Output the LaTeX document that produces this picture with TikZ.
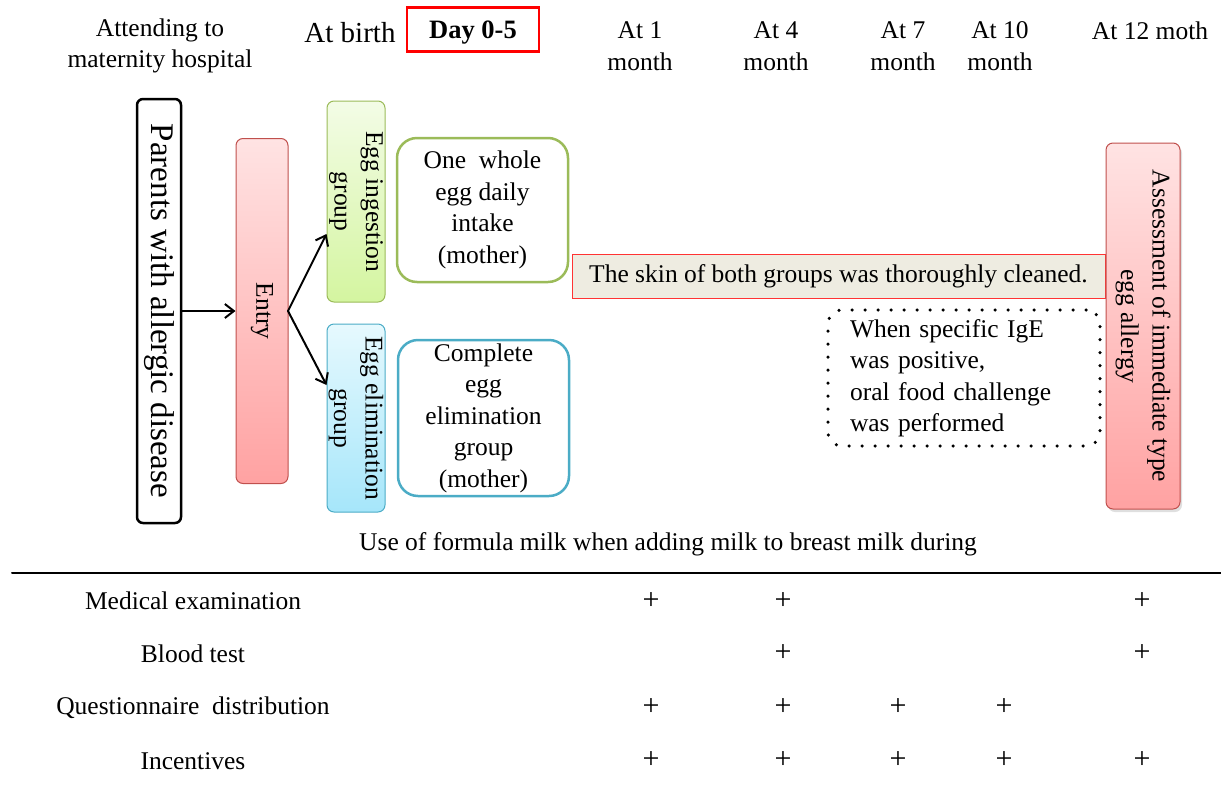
\documentclass[tikz,border=0pt]{standalone}
\usepackage{fontspec}
\setmainfont{Liberation Serif}
\usepackage{tikz}
\usetikzlibrary{arrows.meta,shadows}
\usepackage{xcolor}
\definecolor{ingreen}{HTML}{9BBB59}
\definecolor{elblue}{HTML}{4BACC6}
\definecolor{entryred}{HTML}{C0504D}
\definecolor{skinfill}{HTML}{EEECE1}
\definecolor{redtop}{HTML}{FFE3E3}
\definecolor{redbot}{HTML}{FFA2A2}
\definecolor{greentop}{HTML}{F3FCE6}
\definecolor{greenbot}{HTML}{D4F5A0}
\definecolor{bluetop}{HTML}{E6F9FE}
\definecolor{bluebot}{HTML}{A6E6FA}

\begin{document}
\begin{tikzpicture}[x=1pt,y=-1pt,>={Straight Barb[length=9pt,width=14pt]},line cap=round,
  font=\fontsize{25.5}{31.5}\selectfont,
  every node/.style={inner sep=0pt,align=center},
  redbox/.style={draw=entryred,line width=1pt,rounded corners=7pt,top color=redtop,bottom color=redbot},
  greenbox/.style={draw=ingreen,line width=1pt,rounded corners=7pt,top color=greentop,bottom color=greenbot},
  bluebox/.style={draw=elblue,line width=1pt,rounded corners=7pt,top color=bluetop,bottom color=bluebot},
  dietbox/.style={line width=2.5pt,rounded corners=20pt,fill=white},
  plus/.style={font=\fontsize{30}{30}\selectfont}]
\useasboundingbox (0,0) rectangle (1221,785);

% time line
\node (hosp) at (160,46) {Attending to\\maternity hospital};
\node[font=\fontsize{29}{32}\selectfont] (birth) at (350,33) {At birth};
\node[draw=red,line width=2.5pt,minimum width=132,minimum height=44,text height=18pt,text depth=0pt,font=\fontsize{26.5}{30}\selectfont\bfseries] (day) at (473,29.5) {Day 0-5};
\node (m1) at (640,46) {At 1\\month};
\node (m4) at (776,46) {At 4\\month};
\node (m7) at (903,46) {At 7\\month};
\node (m10) at (1000,46) {At 10\\month};
\node (m12) at (1150,31) {At 12 moth};

% flow
\node[draw,line width=2.5pt,rounded corners=6pt,fill=white,minimum width=44,minimum height=424] (parents) at (159,311) {};
\node[rotate=-90,font=\fontsize{33}{36}\selectfont] at (parents.center) {Parents with allergic disease};
\node[redbox,minimum width=52,minimum height=345] (entry) at (262,311) {};
\node[rotate=-90] at (entry.center) {Entry};
\node[greenbox,minimum width=58,minimum height=201] (ingest) at (356,201.5) {};
\node[rotate=-90] at (ingest.center) {Egg ingestion\\group};
\node[bluebox,minimum width=58,minimum height=188] (elim) at (356,418) {};
\node[rotate=-90] at (elim.center) {Egg elimination\\group};
\coordinate (fork) at (288,311);
\draw[->,line width=2pt] (parents.east) -- (entry.west);
\draw[->,line width=2pt] (fork) -- (ingest.west |- 0,234);
\draw[->,line width=2pt] (fork) -- (elim.west |- 0,385);

\node[dietbox,draw=ingreen,minimum width=171,minimum height=144] (whole) at (482.5,210) {One\ \ whole\\egg daily\\intake\\(mother)};
\node[dietbox,draw=elblue,minimum width=171,minimum height=156] (complete) at (483.5,418) {Complete\\egg\\elimination\\group\\(mother)};

\node[draw=red!80,fill=skinfill,line width=0.8pt,minimum width=533,minimum height=44] (skin) at (838.5,276) {The skin of both groups was thoroughly cleaned.};
\node[draw,line width=3.5pt,dash pattern=on 0pt off 13pt,rounded corners=14pt,minimum width=272,minimum height=136,align=left,text width=228] (ofc) at (964,378) {When specific IgE\\was positive,\\oral food challenge\\was performed};
\node[redbox,minimum width=74,minimum height=366,drop shadow={shadow xshift=2pt,shadow yshift=-3pt,opacity=0.25}] (assess) at (1143,326) {};
\node[rotate=-90] at (assess.center) {Assessment of immediate type\\egg allergy};

\node (formula) at (668,544) {Use of formula milk when adding milk to breast milk during};
\coordinate (rulel) at (12,573);
\coordinate (ruler) at (1221,573);
\draw[line width=2pt] (rulel) -- (ruler);

% schedule
\node (exam) at (193,601) {Medical examination};
\node (blood) at (193,654) {Blood test};
\node (quest) at (193,708) {Questionnaire\ \ distribution};
\node (incent) at (193,761) {Incentives};
\foreach \x in {651,783,1142} \node[plus] at (\x,601) {+};
\foreach \x in {783,1142} \node[plus] at (\x,653) {+};
\foreach \x in {651,783,898,1004} \node[plus] at (\x,707) {+};
\foreach \x in {651,783,898,1004,1142} \node[plus] at (\x,760) {+};
\end{tikzpicture}
\end{document}
